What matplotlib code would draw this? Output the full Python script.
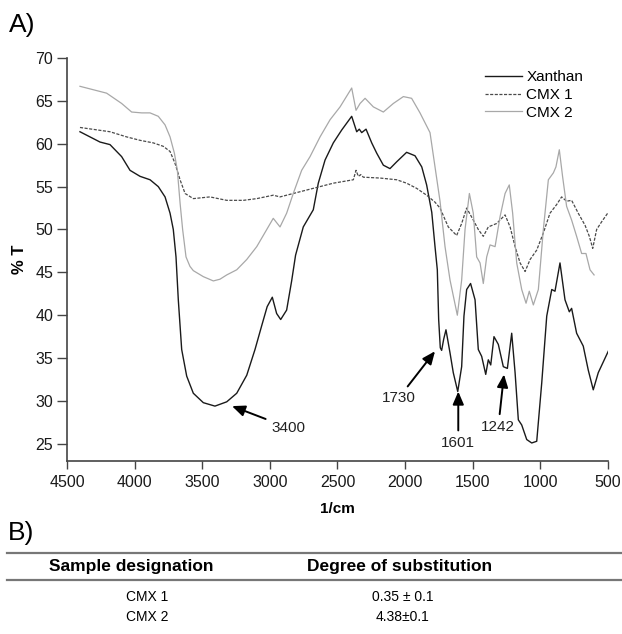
import matplotlib
matplotlib.use("Agg")
import matplotlib.pyplot as plt
from matplotlib.lines import Line2D

plt.rcParams["font.family"] = ["Liberation Sans", "DejaVu Sans"]

# FTIR spectra (wavenumber in 1/cm, transmittance in %)
xanthan_wn = [4404, 4256, 4182, 4096, 4034, 3960, 3886, 3825, 3775, 3738, 3714, 3694,
              3677, 3652, 3615, 3566, 3492, 3406, 3319, 3245, 3171, 3110, 3060, 3020,
              2982, 2950, 2920, 2876, 2839, 2810, 2753, 2679, 2642, 2592, 2531, 2469,
              2395, 2358, 2339, 2321, 2289, 2247, 2210, 2161, 2112, 2062, 1989, 1927,
              1877, 1841, 1803, 1779, 1762, 1752, 1740, 1730, 1715, 1698, 1668, 1644,
              1611, 1582, 1565, 1545, 1516, 1483, 1459, 1434, 1404, 1385, 1367, 1343,
              1311, 1274, 1244, 1212, 1187, 1163, 1138, 1101, 1064, 1027, 990, 953,
              916, 892, 855, 818, 786, 769, 732, 683, 646, 609, 572, 498]
xanthan_t = [61.4, 60.2, 59.9, 58.5, 56.9, 56.2, 55.8, 55.0, 53.8, 51.9, 50.0, 46.8,
             41.8, 36.0, 32.9, 30.9, 29.8, 29.4, 29.9, 30.9, 33.0, 36.0, 38.8, 41.0,
             42.1, 40.2, 39.5, 40.6, 44.0, 47.0, 50.3, 52.3, 55.4, 58.1, 60.1, 61.6,
             63.2, 61.4, 61.7, 61.3, 61.7, 60.1, 58.9, 57.5, 57.1, 57.9, 59.0, 58.6,
             57.3, 55.2, 52.0, 48.0, 45.3, 39.5, 36.2, 35.9, 37.2, 38.3, 35.6, 33.3,
             31.1, 34.0, 39.9, 43.0, 43.7, 41.8, 36.0, 35.2, 33.1, 34.8, 34.2, 37.5,
             36.6, 34.0, 33.8, 37.9, 33.3, 27.8, 27.2, 25.5, 25.1, 25.3, 32.1, 39.9,
             43.0, 42.8, 46.1, 41.8, 40.4, 40.8, 37.9, 36.4, 33.6, 31.3, 33.3, 35.8]

cmx1_wn = [4404, 4182, 4059, 3960, 3862, 3788, 3738, 3701, 3664, 3627, 3566, 3443,
           3319, 3196, 3097, 2975, 2925, 2827, 2679, 2531, 2383, 2363, 2346, 2328,
           2309, 2186, 2062, 1989, 1915, 1841, 1780, 1742, 1681, 1619, 1582, 1545,
           1496, 1459, 1422, 1385, 1323, 1261, 1224, 1187, 1150, 1113, 1076, 1027,
           978, 929, 880, 843, 806, 769, 720, 670, 638, 613, 584, 547, 498]
cmx1_t = [61.9, 61.4, 60.8, 60.4, 60.1, 59.7, 59.1, 57.7, 55.8, 54.2, 53.6, 53.8,
          53.4, 53.4, 53.6, 54.0, 53.8, 54.2, 54.8, 55.4, 55.8, 56.9, 56.2, 56.4,
          56.1, 56.0, 55.8, 55.4, 54.8, 54.0, 53.2, 52.5, 50.3, 49.3, 50.7, 52.5,
          51.1, 50.0, 49.2, 50.3, 50.7, 51.7, 50.3, 48.0, 46.1, 45.1, 46.5, 47.6,
          49.6, 51.9, 52.9, 53.8, 53.3, 53.4, 51.9, 50.5, 49.2, 47.8, 50.0, 50.9, 52.0]

cmx2_wn = [4404, 4207, 4096, 4022, 3948, 3886, 3825, 3775, 3738, 3706, 3684, 3664,
           3645, 3620, 3591, 3566, 3492, 3418, 3369, 3319, 3245, 3171, 3097, 3023,
           2975, 2925, 2876, 2827, 2765, 2703, 2629, 2555, 2481, 2395, 2363, 2333,
           2296, 2235, 2161, 2087, 2013, 1952, 1890, 1816, 1742, 1705, 1668, 1614,
           1582, 1557, 1525, 1496, 1471, 1446, 1422, 1397, 1372, 1335, 1298, 1261,
           1230, 1205, 1175, 1138, 1106, 1082, 1052, 1015, 978, 941, 904, 885,
           860, 836, 806, 769, 732, 695, 663, 633, 603]
cmx2_t = [66.7, 65.9, 64.7, 63.7, 63.6, 63.6, 63.2, 62.2, 60.8, 58.9, 56.9, 53.1,
          50.0, 46.8, 45.7, 45.2, 44.5, 44.0, 44.2, 44.7, 45.3, 46.5, 48.0, 50.0,
          51.3, 50.3, 51.9, 54.2, 56.9, 58.5, 60.8, 62.8, 64.3, 66.5, 63.9, 64.7,
          65.3, 64.3, 63.7, 64.7, 65.5, 65.3, 63.6, 61.3, 53.3, 48.0, 44.1, 40.0,
          44.1, 50.0, 54.2, 51.9, 46.8, 46.1, 43.7, 46.8, 48.2, 48.0, 51.5, 54.2,
          55.2, 51.9, 46.1, 43.0, 41.4, 42.8, 41.2, 43.0, 50.0, 55.8, 56.6, 57.3,
          59.3, 56.2, 52.7, 51.1, 49.2, 47.2, 47.2, 45.3, 44.7]

# peak labels: (label, arrow tip, text position)
peak_labels = ["3400", "1730", "1601", "1242"]
peak_tips = [(3280, 29.4), (1779, 35.8), (1607, 31.1), (1269, 33.1)]
peak_texts = [(2866, 26.9), (2050, 30.3), (1607, 25.1), (1311, 27.0)]

table_cols = ["Sample designation", "Degree of substitution"]
table_samples = ["CMX 1", "CMX 2"]
table_ds = ["0.35 \u00b1 0.1", "4.38\u00b10.1"]

fig = plt.figure(figsize=(6.22, 6.34), dpi=100)
ax = fig.add_axes([0.1077, 0.2729, 0.8698, 0.6356])

ax.plot(xanthan_wn, xanthan_t, color="#1a1a1a", lw=1.0, label="Xanthan")
ax.plot(cmx1_wn, cmx1_t, color="#4a4a4a", lw=0.9, ls=(0, (2.5, 1.2)), label="CMX 1")
ax.plot(cmx2_wn, cmx2_t, color="#a8a8a8", lw=0.9, label="CMX 2")

for lab, tip, txt in zip(peak_labels, peak_tips, peak_texts):
    ax.annotate(lab, xy=tip, xytext=txt, ha="center", va="center", fontsize=11,
                color="#222222",
                arrowprops=dict(arrowstyle="-|>,head_width=0.3,head_length=0.7",
                                color="black", lw=1.4, shrinkA=2, shrinkB=0))

ax.set_xlim(4500, 500)
ax.set_ylim(23, 70)
ax.set_xticks(range(4500, 499, -500))
ax.set_yticks(range(25, 71, 5))
for s in ("top", "right"):
    ax.spines[s].set_visible(False)
for s in ("left", "bottom"):
    ax.spines[s].set_color("#444444")
    ax.spines[s].set_linewidth(1.2)
ax.spines["left"].set_bounds(23, 70)
ax.tick_params(axis="both", direction="out", color="#444444", width=1.0,
               labelsize=11.5, labelcolor="#1a1a1a")
ax.tick_params(axis="y", length=7, pad=3)
ax.tick_params(axis="x", length=6, pad=4)
ax.set_xlabel("1/cm", fontsize=11, fontweight="bold", labelpad=9)
ax.set_ylabel("% T", fontsize=12, fontweight="bold", labelpad=6)

ax.legend(loc="upper left", bbox_to_anchor=(0.773, 0.97), frameon=False,
          fontsize=11, handlelength=2.4, handletextpad=0.3, labelspacing=0.25,
          borderpad=0, borderaxespad=0)

fig.text(0.015, 0.961, "A)", fontsize=19, va="center", ha="left")
fig.text(0.012, 0.159, "B)", fontsize=19, va="center", ha="left")

# table B
fig.add_artist(Line2D([0.012, 1.0], [0.1278, 0.1278], color="#777777", lw=1.6))
fig.add_artist(Line2D([0.012, 1.0], [0.0852, 0.0852], color="#777777", lw=1.6))
col_x = [0.211, 0.642]
row_x = [0.236, 0.647]
fig.text(col_x[0], 0.1057, table_cols[0], fontsize=12.5, fontweight="bold",
         ha="center", va="center")
fig.text(col_x[1], 0.1057, table_cols[1], fontsize=12.5, fontweight="bold",
         ha="center", va="center")
for i, (name, ds) in enumerate(zip(table_samples, table_ds)):
    y = 0.0584 - i * 0.0316
    fig.text(row_x[0], y, name, fontsize=10, ha="center", va="center")
    fig.text(row_x[1], y, ds, fontsize=10, ha="center", va="center")

fig.savefig("out.png", dpi=100)
